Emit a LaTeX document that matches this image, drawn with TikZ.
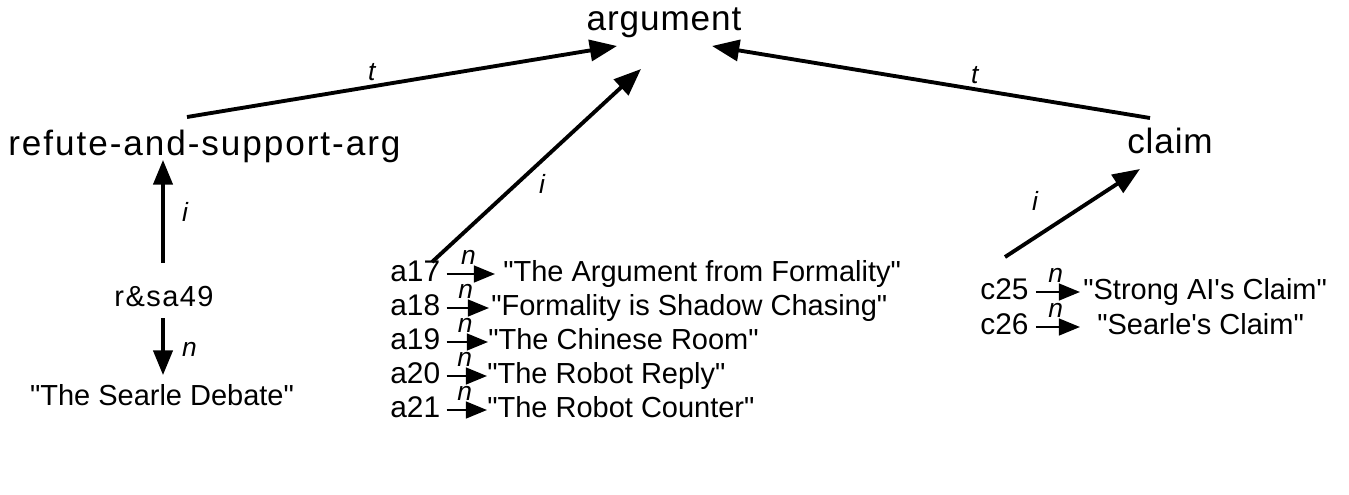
\documentclass[tikz,border=0pt]{standalone}
\usepackage{fontspec}
\setmainfont{Liberation Sans}[Ligatures=TeXOff]
\newfontfamily\hdrfont{Liberation Sans}[Ligatures=TeXOff,LetterSpace=2.5]
\newfontfamily\widefont{Liberation Sans}[Ligatures=TeXOff,LetterSpace=5.5]
\newfontfamily\idfont{Liberation Sans}[Ligatures=TeXOff,LetterSpace=5]
\usetikzlibrary{arrows.meta,calc}
\begin{document}
\begin{tikzpicture}[x=0.02cm,y=-0.02cm,
  hdr/.style={inner sep=0pt, anchor=base, font=\hdrfont\fontsize{20}{24}\selectfont},
  lbl/.style={inner sep=0pt, anchor=base west, font=\fontsize{16.5}{20}\selectfont},
  idl/.style={inner sep=0pt, anchor=base west, font=\fontsize{17}{20}\selectfont},
  rel/.style={inner sep=0pt, font=\itshape\fontsize{15}{18}\selectfont},
  big/.style={line width=2.2pt, -{Triangle[length=15.5pt,width=12pt]}},
  mid/.style={line width=1.8pt, -{Triangle[length=14pt,width=11pt]}},
  sm/.style={line width=1.3pt, -{Triangle[length=12pt,width=9.5pt]}}
]
\useasboundingbox (0,0) rectangle (1349,494);
% header nodes
\node[hdr] (arg) at (664,30) {argument};
\node[hdr, anchor=base west, font=\widefont\fontsize{20}{24}\selectfont] (rsa) at (8,155) {refute-and-support-arg};
\node[hdr] (claim) at (1170,153) {claim};
\node[hdr, font=\idfont\fontsize{16.5}{20}\selectfont] (rsa49) at (164,306) {r\&sa49};
\node[lbl, anchor=base] (searle) at (162,405) {"The Searle Debate"};
% arrow endpoints
\coordinate (tLs) at (187,117);
\coordinate (tLe) at (617,46);
\coordinate (iMs) at (432,262);
\coordinate (iMe) at (641,69);
\coordinate (tRs) at (1150,118);
\coordinate (tRe) at (712,46);
\coordinate (iRs) at (1005,257);
\coordinate (iRe) at (1140,169);
\coordinate (iVs) at (163,263);
\coordinate (iVe) at (163,160);
\coordinate (nVs) at (163,318);
\coordinate (nVe) at (163,375);
% main arrows
\draw[big] (tLs) -- (tLe) node[rel, pos=0.43, above=2pt] {t};
\draw[big] (iMs) -- (iMe);
\node[rel] (iMl) at (542,184) {i};
\draw[big] (tRs) -- (tRe) node[rel, pos=0.4, above=2pt] {t};
\draw[big] (iRs) -- (iRe);
\node[rel] (iRl) at (1035,201) {i};
\draw[mid] (iVs) -- (iVe) node[rel, pos=0.5, right=10pt] {i};
\draw[mid] (nVs) -- (nVe) node[rel, pos=0.55, right=10pt] {n};
% argument instances
\node[idl] (a17) at (390,281) {a17};
\node[idl] (a18) at (390,315) {a18};
\node[idl] (a19) at (390,349) {a19};
\node[idl] (a20) at (390,383) {a20};
\node[idl] (a21) at (390,417) {a21};
\node[lbl] (q17) at (503,281) {"The Argument from Formality"};
\node[lbl] (q18) at (491,315) {"Formality is Shadow Chasing"};
\node[lbl] (q19) at (488,349) {"The Chinese Room"};
\node[lbl] (q20) at (487,383) {"The Robot Reply"};
\node[lbl] (q21) at (487,417) {"The Robot Counter"};
\foreach \a/\g in {17/8,18/2,19/0,20/0,21/0}{
  \draw[sm] ($(a\a.base east)+(6,-7)$) -- ($(q\a.base west)+(-\g,-7)$)
    node[rel, pos=0.45, above=5pt] {n};
}
% claim instances
\node[idl] (c25) at (980,299) {c25};
\node[idl] (c26) at (980,334) {c26};
\node[lbl] (q25) at (1083,299) {"Strong AI's Claim"};
\node[lbl] (q26) at (1097,334) {"Searle's Claim"};
\draw[sm] ($(c25.base east)+(7,-7)$) -- ($(q25.base west)+(-3,-7)$)
  node[rel, pos=0.45, above=5pt] {n};
\draw[sm] ($(c26.base east)+(7,-7)$) -- ($(q26.base west)+(-17,-7)$)
  node[rel, pos=0.45, above=5pt] {n};
\end{tikzpicture}
\end{document}
